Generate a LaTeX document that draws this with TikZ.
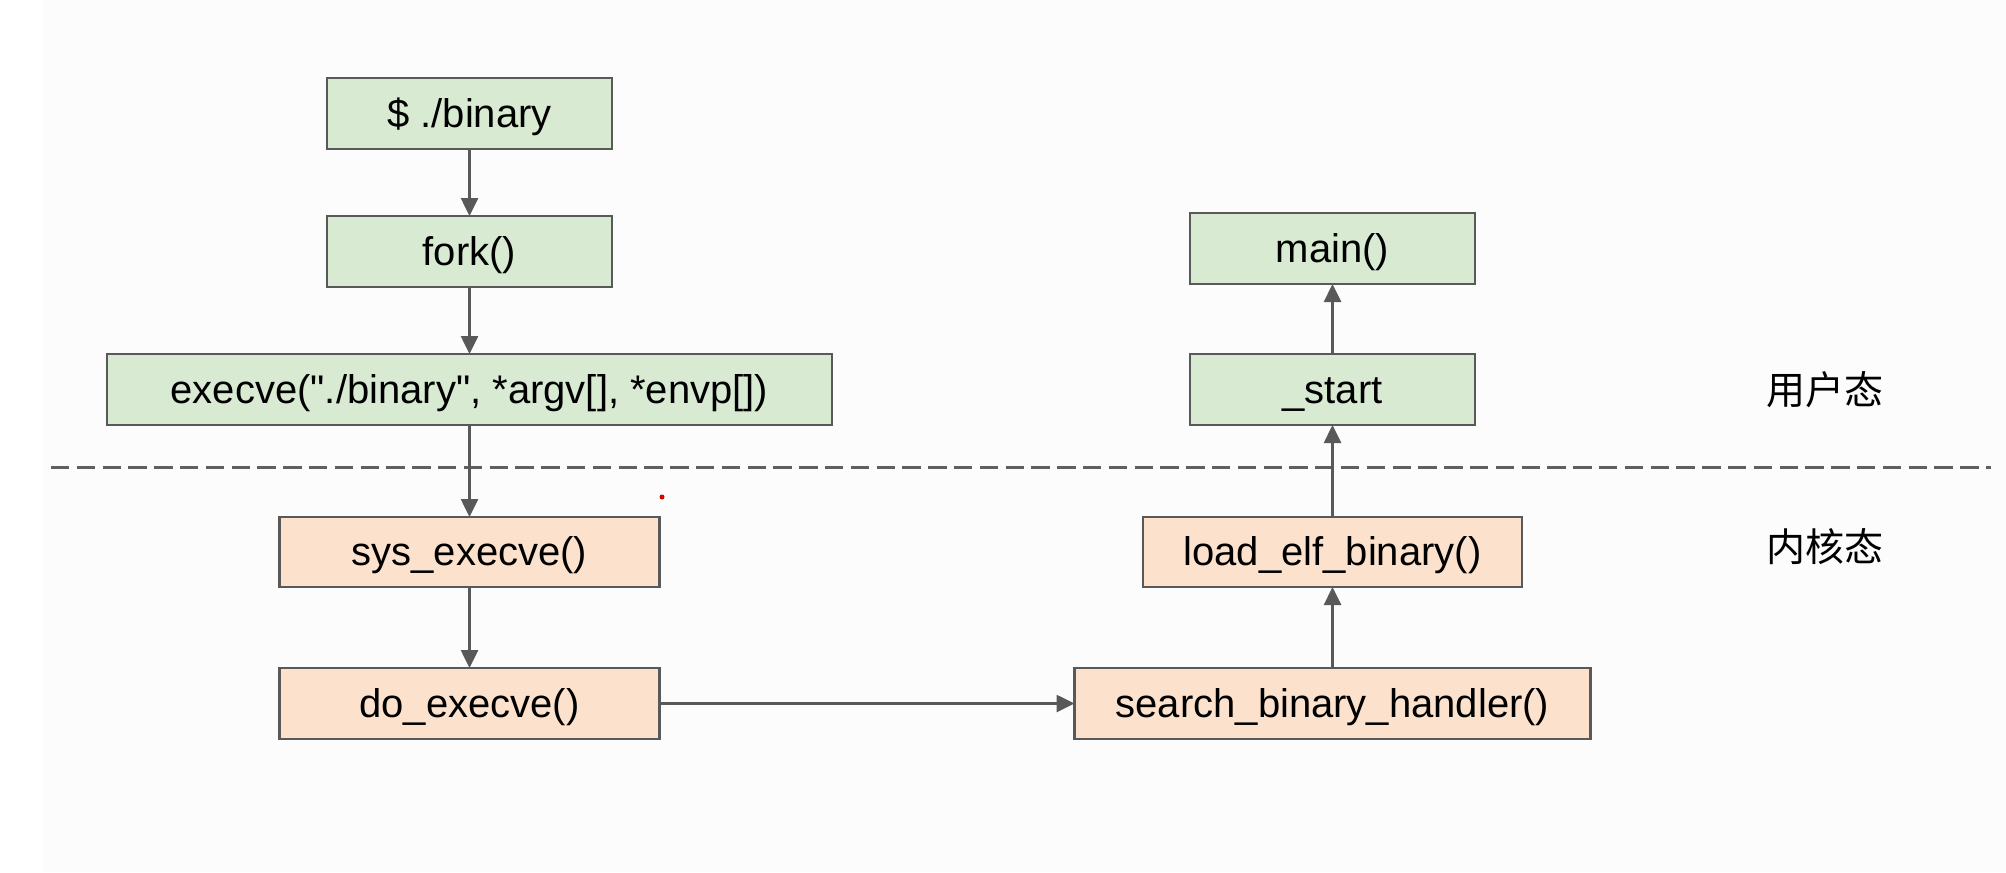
\documentclass[tikz,border=0pt]{standalone}
\usepackage{fontspec}
\setmainfont{Liberation Sans}[Ligatures=TeXOff]
\newfontfamily\cjk{Noto Sans CJK SC}
\usetikzlibrary{arrows.meta}
\definecolor{bordergray}{HTML}{595959}
\definecolor{boxgreen}{HTML}{D9EAD3}
\definecolor{boxorange}{HTML}{FCE2CC}
\definecolor{bgtint}{HTML}{FCFCFC}
\definecolor{dashgray}{HTML}{5F5F5F}
\tikzset{
  fbox/.style={draw=bordergray, line width=1.1pt, inner sep=0pt, outer sep=0pt,
    font=\fontsize{20pt}{24pt}\selectfont, text height=16pt, text depth=2.4pt},
  userbox/.style={fbox, fill=boxgreen},
  kernbox/.style={fbox, fill=boxorange},
  flow/.style={draw=bordergray, line width=1.3pt, -{Triangle[length=9pt,width=8.5pt]}},
  statelabel/.style={font=\cjk\fontsize{19.5pt}{23pt}\selectfont, inner sep=0pt},
  divider/.style={draw=dashgray, line width=1.5pt, dash pattern=on 9.2pt off 3.7pt}
}
\begin{document}
\begin{tikzpicture}[x=0.5pt, y=-0.5pt]
\useasboundingbox (0,0) rectangle (2006,872);
\fill[white] (0,0) rectangle (2006,872);
\fill[bgtint] (42,0) rectangle (2006,872);

% user-space boxes
\node[userbox, minimum width=142.5pt, minimum height=35.5pt] (bin) at (469.5,113.5) {\$ ./binary};
\node[userbox, minimum width=142.5pt, minimum height=35.5pt] (fork) at (469.5,251.5) {fork()};
\node[userbox, minimum width=362.5pt, minimum height=35.5pt] (exec) at (469.5,389.5) {execve("./binary", *argv[], *envp[])};
\node[userbox, minimum width=142.5pt, minimum height=35.5pt] (main) at (1332.5,248.5) {main()};
\node[userbox, minimum width=142.5pt, minimum height=35.5pt] (start) at (1332.5,389.5) {\_start};

% kernel boxes
\node[kernbox, minimum width=190pt, minimum height=35pt] (sys) at (469.5,552) {sys\_execve()};
\node[kernbox, minimum width=190pt, minimum height=35.5pt] (do) at (469.5,703.5) {do\_execve()};
\node[kernbox, minimum width=189.5pt, minimum height=35pt] (load) at (1332.5,552) {load\_elf\_binary()};
\node[kernbox, minimum width=258pt, minimum height=35.5pt] (search) at (1332.5,703.5) {search\_binary\_handler()};

% divider
\coordinate (dl) at (51,467);
\coordinate (dr) at (1991,467);
\draw[divider] (dl) -- (dr);

% labels
\node[statelabel] (user) at (1825,390) {用户态};
\node[statelabel] (kern) at (1825,547) {内核态};

% connectors
\draw[flow] (bin) -- (fork);
\draw[flow] (fork) -- (exec);
\draw[flow] (exec) -- (sys);
\draw[flow] (sys) -- (do);
\draw[flow] (do) -- (search);
\draw[flow] (search) -- (load);
\draw[flow] (load) -- (start);
\draw[flow] (start) -- (main);

% stray red mark
\node[circle, fill=red!85!black, inner sep=0pt, minimum size=2.5pt] (dot) at (662,497) {};
\end{tikzpicture}
\end{document}
